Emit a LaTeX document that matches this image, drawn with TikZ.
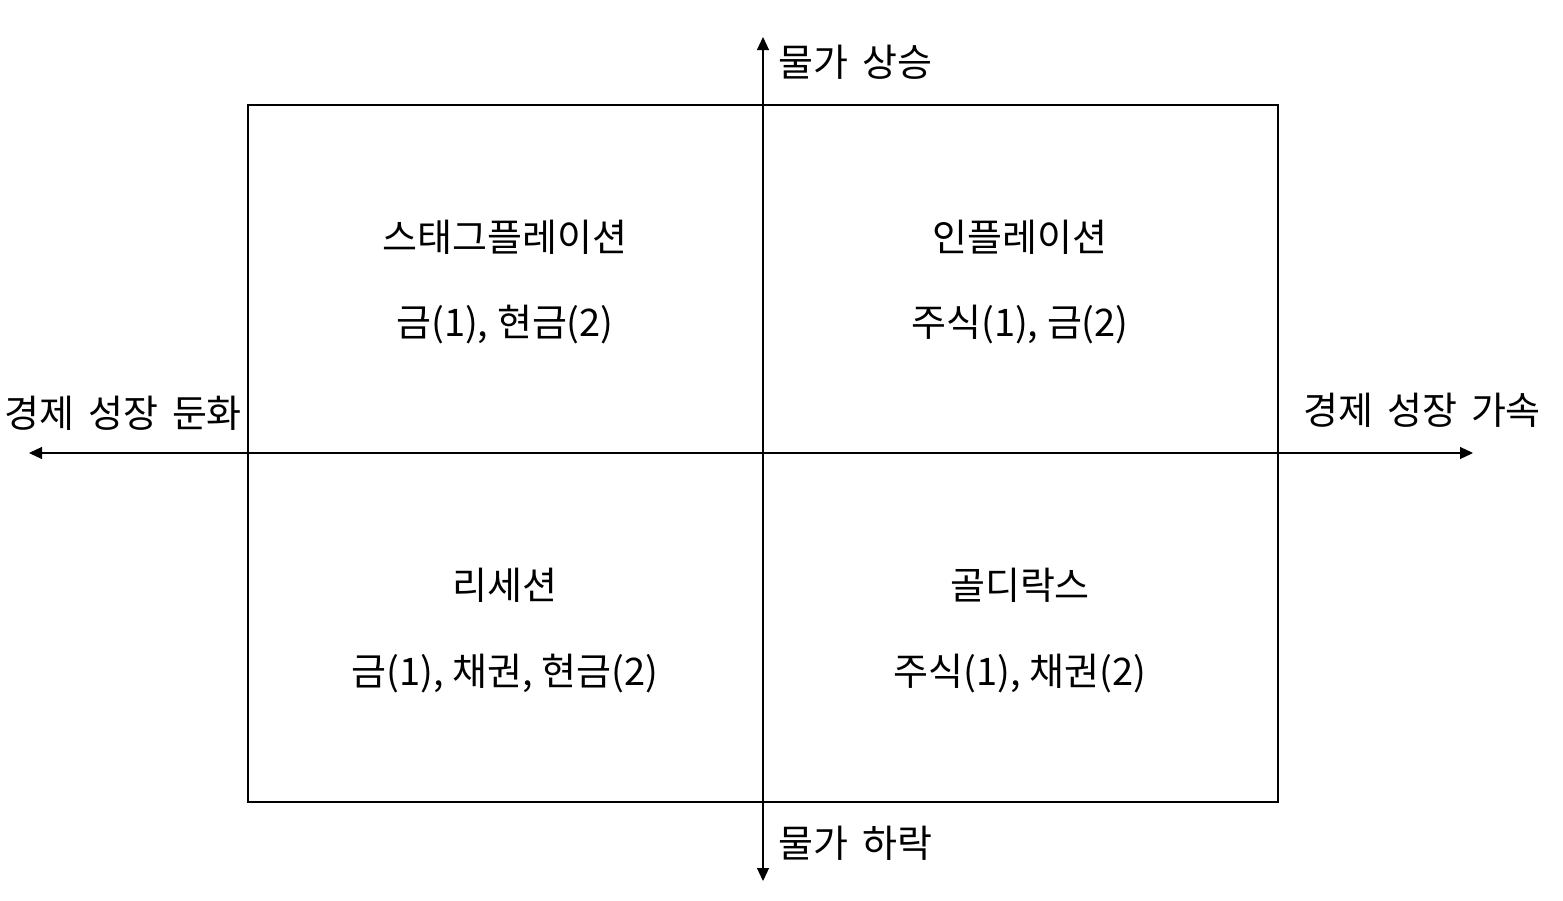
\documentclass[tikz,border=0pt]{standalone}
\usepackage{fontspec}
\setmainfont{Noto Sans CJK KR}
\usetikzlibrary{arrows.meta}
\begin{document}
\begin{tikzpicture}[x=1pt,y=-1pt,
  boxline/.style={line width=2pt},
  axis/.style={line width=1.1pt,-{Triangle[length=13pt,width=12pt]}},
  lbl/.style={font=\fontsize{38}{44}\selectfont,inner sep=0pt},
  ax/.style={font=\fontsize{38}{44}\selectfont,inner sep=0pt,anchor=west,
    execute at begin node={\spaceskip=14pt plus 0pt minus 0pt\relax}}]
\useasboundingbox (0,0) rectangle (1563,900);
\fill[white] (0,0) rectangle (1563,900);
% axes
\coordinate (c) at (763,453);
\coordinate (top) at (763,37);
\coordinate (bot) at (763,881);
\coordinate (left) at (29,453);
\coordinate (right) at (1473,453);
\draw[axis] (c) -- (top);
\draw[axis] (c) -- (bot);
\draw[axis] (c) -- (left);
\draw[axis] (c) -- (right);
% box
\draw[boxline] (248,105) rectangle (1278,802);
\draw[boxline] (763,105) -- (763,802);
\draw[boxline] (248,453) -- (1278,453);
% quadrant texts
\node[lbl] (q1a) at (505,237) {스태그플레이션};
\node[lbl] (q1b) at (505,325) {금(1), 현금(2)};
\node[lbl] (q2a) at (1020,237) {인플레이션};
\node[lbl] (q2b) at (1020,325) {주식(1), 금(2)};
\node[lbl] (q3a) at (505,585) {리세션};
\node[lbl] (q3b) at (505,673) {금(1), 채권, 현금(2)};
\node[lbl] (q4a) at (1020,585) {골디락스};
\node[lbl] (q4b) at (1020,673) {주식(1), 채권(2)};
% axis labels
\node[ax] (up) at (778,62) {물가 상승};
\node[ax] (down) at (778,843) {물가 하락};
\node[ax] (slow) at (4,413) {경제 성장 둔화};
\node[ax] (fast) at (1303,410) {경제 성장 가속};
\end{tikzpicture}
\end{document}
